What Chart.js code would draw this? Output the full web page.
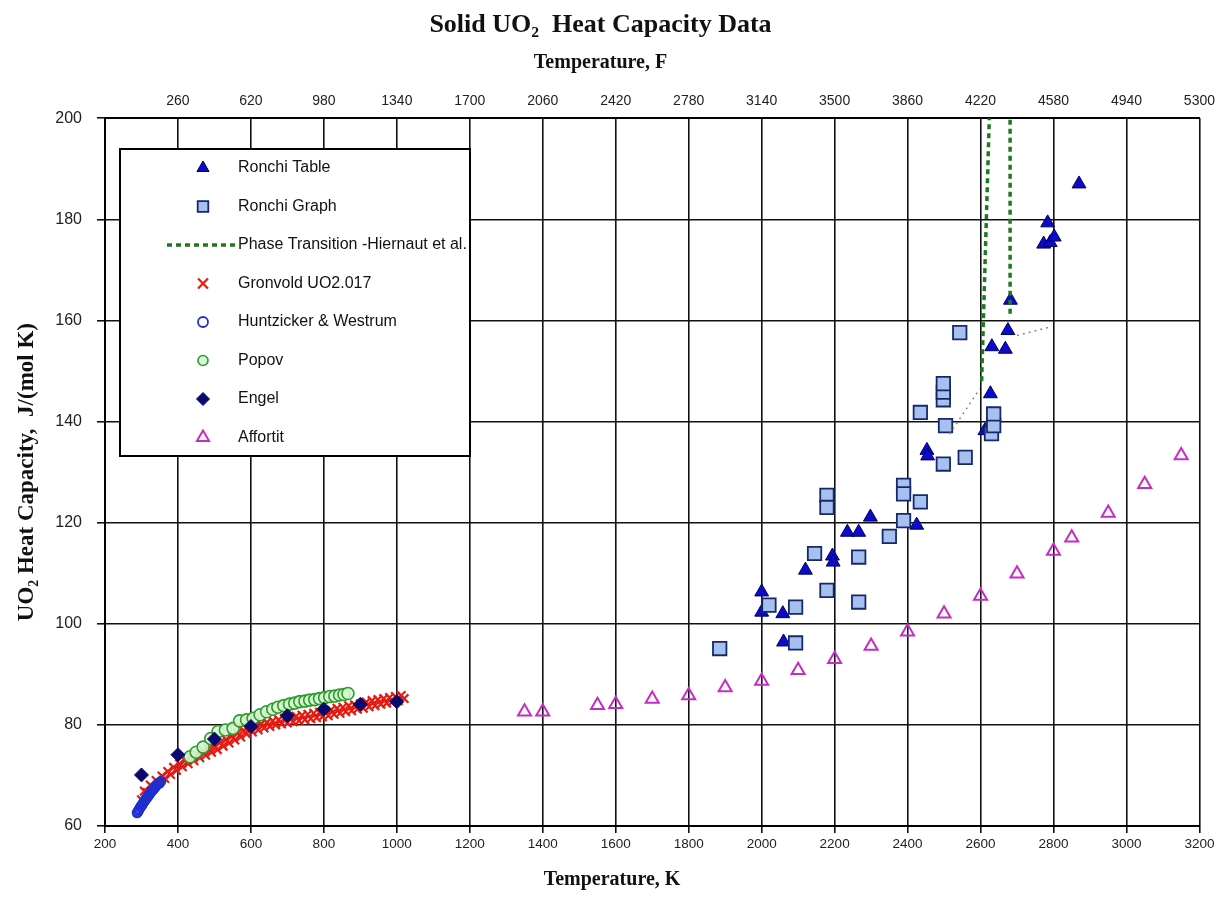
<!DOCTYPE html>
<html>
<head>
<meta charset="utf-8">
<title>Solid UO2 Heat Capacity Data</title>
<script src="https://cdn.jsdelivr.net/npm/chart.js@4.4.1/dist/chart.umd.min.js"></script>
<style>
  html, body { margin: 0; padding: 0; background: #fff; }
  #contenedor { width: 1224px; height: 911px; position: relative; }
</style>
</head>
<body>
<div id="contenedor"><canvas id="grafico__main"></canvas></div>
<script>
// datos: temperatura en K, capacidad calorifica en J/(mol K)
const ronchiTablaK = [2000, 2000, 2058, 2060, 2120, 2194, 2196, 2235, 2266, 2298, 2425, 2453, 2455, 2612, 2627, 2631, 2668, 2675, 2682, 2773, 2791, 2784, 2802, 2870];
const ronchiTablaCp = [106.3, 102.3, 102.0, 96.4, 110.6, 113.4, 112.2, 118.1, 118.1, 121.1, 119.5, 134.3, 133.2, 138.2, 145.5, 154.8, 154.3, 158.0, 164.0, 175.1, 175.4, 179.3, 176.5, 187.0];

const ronchiGrafK = [1885, 2020, 2093, 2093, 2145, 2179, 2179, 2179, 2266, 2266, 2350, 2389, 2389, 2389, 2435, 2435, 2498, 2504, 2498, 2498, 2498, 2543, 2558, 2630, 2636, 2636];
const ronchiGrafCp = [95.1, 103.7, 103.3, 96.2, 113.9, 106.6, 125.4, 123.0, 113.2, 104.3, 117.3, 127.4, 125.7, 120.4, 124.1, 141.8, 131.6, 139.2, 144.3, 145.8, 147.5, 157.6, 132.9, 137.6, 139.2, 141.5];

// transicion de fase (dos tramos separados por un hueco)
const faseK = [2603, 2624, 2650, 2681, 2681];
const faseCp = [148, 200, null, 161.3, 200];

// lineas punteadas grises de guia
const guiaK = [2515, 2598, 2650, 2700, 2795];
const guiaCp = [137.5, 146.5, null, 157.0, 158.8];

const gronvoldK = [300, 308, 316, 324, 332, 340, 348, 356, 364, 372, 380, 388, 396, 404, 412, 420, 428, 436, 444, 452,
  460, 468, 476, 484, 492, 500, 508, 516, 524, 532, 540, 548, 556, 564, 572, 580, 588, 596, 604, 612,
  620, 628, 636, 644, 652, 660, 668, 676, 684, 692, 700, 708, 716, 724, 732, 740, 748, 756, 764, 772,
  780, 788, 796, 804, 812, 820, 828, 836, 844, 852, 860, 868, 876, 884, 892, 900, 908, 916, 924, 932,
  940, 948, 956, 964, 972, 980, 988, 996, 1004, 1012, 1020];
const gronvoldCp = [65.2, 66.9, 66.6, 68.1, 67.6, 69.0, 68.5, 69.9, 69.4, 70.8, 70.2, 71.6, 71.0, 72.3, 71.7, 73.0, 72.3, 73.6, 72.9, 74.2,
  73.5, 74.8, 74.0, 75.3, 74.6, 75.8, 75.1, 76.5, 75.8, 77.1, 76.4, 77.8, 77.0, 78.4, 77.6, 78.9, 78.2, 79.4, 78.6, 79.8,
  79.0, 80.2, 79.4, 80.5, 79.7, 80.8, 80.0, 81.0, 80.2, 81.3, 80.4, 81.5, 80.6, 81.7, 80.8, 81.9, 81.0, 82.1, 81.2, 82.3,
  81.4, 82.5, 81.6, 82.7, 81.8, 83.0, 82.1, 83.3, 82.3, 83.5, 82.6, 83.8, 82.8, 84.0, 83.1, 84.2, 83.3, 84.5, 83.6, 84.8,
  83.8, 85.0, 84.1, 85.2, 84.3, 85.4, 84.6, 85.6, 84.8, 85.8, 85.2];

const huntzickerK = [288, 290, 292, 294, 296, 298, 300, 302, 304, 306, 308, 310, 312, 314, 316, 318, 320, 323, 326, 329, 332, 335, 338, 341, 344, 347, 350, 353];
const huntzickerCp = [62.6, 62.8, 63.1, 63.3, 63.6, 63.8, 64.0, 64.2, 64.5, 64.7, 64.9, 65.1, 65.3, 65.5, 65.7, 65.9, 66.1, 66.4, 66.7, 67.0, 67.2, 67.5, 67.7, 68.0, 68.2, 68.4, 68.6, 68.8];

const popovK = [433, 450, 469, 490, 510, 530, 551, 569, 588, 606, 625, 643, 660, 674, 690, 706, 720, 734, 748, 761, 775, 788, 802, 816, 830, 843, 855, 866];
const popovCp = [73.7, 74.6, 75.6, 77.3, 78.7, 79.0, 79.3, 80.8, 81.0, 81.3, 82.0, 82.6, 83.1, 83.5, 83.8, 84.1, 84.3, 84.6, 84.7, 84.9, 85.0, 85.2, 85.4, 85.6, 85.7, 85.9, 86.0, 86.2];

const engelK = [300, 400, 500, 600, 700, 800, 900, 1000];
const engelCp = [70.1, 74.1, 77.2, 79.7, 81.8, 83.1, 84.1, 84.6];

const affortitK = [1350, 1400, 1550, 1600, 1700, 1800, 1900, 2000, 2100, 2200, 2300, 2400, 2500, 2600, 2700, 2800, 2850, 2950, 3050, 3150];
const affortitCp = [82.6, 82.6, 83.9, 84.1, 85.1, 85.8, 87.4, 88.7, 90.8, 93.0, 95.6, 98.4, 102.0, 105.5, 109.9, 114.4, 117.0, 121.9, 127.6, 133.3];

// etiquetas del eje superior (F) en cada marca de K
const ticksK = [200, 400, 600, 800, 1000, 1200, 1400, 1600, 1800, 2000, 2200, 2400, 2600, 2800, 3000, 3200];
const ticksF = ['', '260', '620', '980', '1340', '1700', '2060', '2420', '2780', '3140', '3500', '3860', '4220', '4580', '4940', '5300'];

const sans = '"Liberation Sans", Arial, sans-serif';
const serif = '"Liberation Serif", "Times New Roman", serif';

function pares(xs, ys){
	return xs.map((x, i) => ({x: x, y: ys[i]}));
}

// leyenda dentro del area del grafico y titulo del eje inferior centrado en la pagina
const leyenda = {
	id: 'leyenda',
	afterDraw(chart){
		const ctx = chart.ctx;
		const items = chart.data.datasets.filter(ds => ds.leyenda !== false);
		ctx.save();
		ctx.fillStyle = '#ffffff';
		ctx.fillRect(120, 149, 350, 307);
		ctx.lineWidth = 2;
		ctx.strokeStyle = '#000000';
		ctx.strokeRect(120, 149, 350, 307);

		ctx.font = '16px ' + sans;
		ctx.textBaseline = 'middle';
		items.forEach((ds, k) => {
			const y = 168 + k * 38.5;
			if(ds.showLine){
				ctx.setLineDash(ds.borderDash);
				ctx.strokeStyle = ds.borderColor;
				ctx.lineWidth = 3.5;
				ctx.beginPath();
				ctx.moveTo(167, y);
				ctx.lineTo(237, y);
				ctx.stroke();
				ctx.setLineDash([]);
			}else{
				ctx.fillStyle = ds.backgroundColor;
				ctx.strokeStyle = ds.borderColor;
				ctx.lineWidth = ds.borderWidth;
				Chart.helpers.drawPoint(ctx, {pointStyle: ds.pointStyle, radius: ds.legendRadius || ds.pointRadius, rotation: 0, borderWidth: ds.borderWidth}, 203, y);
			}
			ctx.fillStyle = '#111111';
			ctx.fillText(ds.label, 238, y);
		});

		ctx.font = 'bold 20px ' + serif;
		ctx.textAlign = 'center';
		ctx.fillStyle = '#111111';
		ctx.fillText('Temperature, K', chart.width / 2, 880);
		ctx.restore();
	}
};

const datasets = [
	{
		label: 'Ronchi Table',
		data: pares(ronchiTablaK, ronchiTablaCp),
		pointStyle: 'triangle', pointRadius: 8, legendRadius: 7,
		backgroundColor: '#0b0bc8', borderColor: '#000066', borderWidth: 1
	},
	{
		label: 'Ronchi Graph',
		data: pares(ronchiGrafK, ronchiGrafCp),
		pointStyle: 'rect', pointRadius: 9.5, legendRadius: 7.5,
		backgroundColor: '#a6c0f0', borderColor: '#16286a', borderWidth: 1.8
	},
	{
		label: 'Phase Transition -Hiernaut et al.',
		data: pares(faseK, faseCp),
		showLine: true, spanGaps: false, pointRadius: 0,
		borderColor: '#1c7a1c', borderWidth: 3.5, borderDash: [5, 4],
		backgroundColor: '#1c7a1c'
	},
	{
		label: 'Gronvold UO2.017',
		data: pares(gronvoldK, gronvoldCp),
		pointStyle: 'crossRot', pointRadius: 6, legendRadius: 7,
		backgroundColor: '#d9231b', borderColor: '#e51b12', borderWidth: 2.2
	},
	{
		label: 'Huntzicker & Westrum',
		data: pares(huntzickerK, huntzickerCp),
		pointStyle: 'circle', pointRadius: 4.5, legendRadius: 5,
		backgroundColor: 'rgba(0,0,0,0)', borderColor: '#1f2fd0', borderWidth: 1.8
	},
	{
		label: 'Popov',
		data: pares(popovK, popovCp),
		pointStyle: 'circle', pointRadius: 6, legendRadius: 5,
		backgroundColor: 'rgba(215,245,210,0.9)', borderColor: '#2e9a2e', borderWidth: 1.6
	},
	{
		label: 'Engel',
		data: pares(engelK, engelCp),
		pointStyle: 'rectRot', pointRadius: 7, legendRadius: 6.5,
		backgroundColor: '#0a0a6e', borderColor: '#0a0a6e', borderWidth: 1
	},
	{
		label: 'Affortit',
		data: pares(affortitK, affortitCp),
		pointStyle: 'triangle', pointRadius: 7.5, legendRadius: 7,
		backgroundColor: 'rgba(255,255,255,0)', borderColor: '#c42cc4', borderWidth: 2
	},
	{
		label: 'guia',
		leyenda: false,
		data: pares(guiaK, guiaCp),
		showLine: true, spanGaps: false, pointRadius: 0,
		borderColor: '#8a8a8a', borderWidth: 1.5, borderDash: [2, 4]
	}
];
// en Excel la serie posterior queda encima
datasets.forEach((ds, i) => { ds.order = 20 - i; });

const config = {
	type: 'scatter',
	data: { datasets: datasets },
	options: {
		responsive: true,
		maintainAspectRatio: false,
		animation: false,
		layout: { padding: { left: 0, right: 23, top: 0, bottom: 0 } },
		plugins: {
			legend: { display: false },
			tooltip: { enabled: false },
			title: {
				display: true,
				text: 'Solid UO\u2082  Heat Capacity Data',
				color: '#111',
				font: { family: serif, size: 26, weight: 'bold' },
				padding: { top: 10, bottom: 0 }
			},
			subtitle: {
				display: true,
				text: 'Temperature, F',
				color: '#111',
				font: { family: serif, size: 20, weight: 'bold' },
				padding: { top: 10, bottom: 0 }
			}
		},
		scales: {
			x: {
				type: 'linear', position: 'bottom',
				min: 200, max: 3200,
				ticks: { stepSize: 200, color: '#222', padding: 3, font: { family: sans, size: 13.5 }, callback: v => String(v) },
				grid: { color: '#111', lineWidth: 1.6, tickLength: 7 },
				border: { color: '#000', width: 2 },
				afterFit: s => { s.height = 85; }
			},
			x2: {
				type: 'linear', position: 'top',
				min: 200, max: 3200,
				ticks: {
					stepSize: 200, color: '#222', padding: 9, font: { family: sans, size: 14 },
					callback: v => ticksF[ticksK.indexOf(v)]
				},
				grid: { display: true, drawOnChartArea: false, drawTicks: false },
				border: { color: '#000', width: 2 },
				afterFit: s => { s.height = 43; }
			},
			y: {
				type: 'linear', position: 'left',
				min: 60, max: 200,
				ticks: { stepSize: 20, color: '#222', padding: 15, font: { family: sans, size: 16 } },
				grid: { color: '#111', lineWidth: 1.6, tickLength: 8 },
				border: { color: '#000', width: 2 },
				title: {
					display: true, text: 'UO\u2082 Heat Capacity,  J/(mol K)', color: '#111',
					font: { family: serif, size: 23, weight: 'bold' },
					padding: { top: 13, bottom: 0 }
				},
				afterFit: s => { s.width = 105; }
			}
		}
	},
	plugins: [leyenda]
};

const grafico = new Chart(document.querySelector('#grafico__main'), config);
</script>
</body>
</html>
